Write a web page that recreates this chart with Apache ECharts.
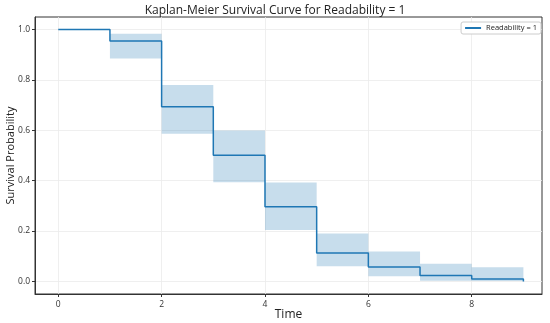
<!DOCTYPE html>
<html>
<head>
<meta charset="utf-8">
<script src="https://cdn.jsdelivr.net/npm/echarts@6/dist/echarts.min.js"></script>
<style>
html,body{margin:0;padding:0;background:#fff;}
#chart{width:550px;height:323px;}
</style>
</head>
<body>
<div id="chart"></div>
<script>
// Data
const times = [0, 1, 2, 3, 4, 5, 6, 7, 8, 9];
const survival = [1.0, 0.955, 0.694, 0.501, 0.296, 0.113, 0.057, 0.023, 0.010, 0.0];
const ciLower = [1.0, 0.885, 0.586, 0.394, 0.204, 0.060, 0.020, 0.003, 0.002, 0.0];
const ciUpper = [1.0, 0.983, 0.780, 0.599, 0.393, 0.190, 0.119, 0.070, 0.056, 0.0];
const xTicks = [0, 2, 4, 6, 8];
const yTicks = [0.0, 0.2, 0.4, 0.6, 0.8, 1.0];
const seriesName = 'Readability = 1';

const lineData = times.map((t, i) => [t, survival[i]]);
const bandData = [];
for (let i = 0; i < times.length - 1; i++) {
  bandData.push([times[i], times[i + 1], ciLower[i], ciUpper[i]]);
}

const FONT = 'Open Sans';
const chart = echarts.init(document.getElementById('chart'), null, {renderer: 'canvas'});
chart.setOption({
  animation: false,
  backgroundColor: '#ffffff',
  title: {
    text: 'Kaplan-Meier Survival Curve for Readability = 1',
    left: 'center',
    top: 0,
    textStyle: {fontFamily: FONT, fontSize: 12, fontWeight: 'normal', color: '#222'}
  },
  legend: {
    right: 9,
    top: 22,
    padding: [2, 4, 2, 4],
    borderColor: '#cccccc',
    borderWidth: 1,
    borderRadius: 2,
    backgroundColor: '#fff',
    itemWidth: 16,
    itemHeight: 2,
    icon: 'rect',
    textStyle: {fontFamily: FONT, fontSize: 7.5, color: '#222'},
    data: [seriesName]
  },
  grid: {
    left: 35, right: 8, top: 17, bottom: 29,
    outerBoundsMode: 'none',
    containLabel: false,
    show: true, borderColor: '#333', borderWidth: 1, backgroundColor: 'transparent'
  },
  xAxis: {
    type: 'value',
    min: -0.45,
    max: 9.36,
    name: 'Time',
    nameLocation: 'middle',
    nameGap: 15,
    nameMoveOverlap: false,
    nameTextStyle: {fontFamily: FONT, fontSize: 12, color: '#222'},
    axisLine: {show: true, onZero: false, lineStyle: {color: '#333', width: 1}},
    axisTick: {show: true, length: 3, lineStyle: {color: '#333'}, customValues: xTicks},
    axisLabel: {fontFamily: FONT, fontSize: 8.5, color: '#333', margin: 6, customValues: xTicks,
      formatter: v => String(v)},
    splitLine: {show: true, lineStyle: {color: '#ebebeb', width: 0.8}}
  },
  yAxis: {
    type: 'value',
    min: -0.05,
    max: 1.05,
    name: 'Survival Probability',
    nameLocation: 'middle',
    nameGap: 19,
    nameMoveOverlap: false,
    nameTextStyle: {fontFamily: FONT, fontSize: 11, color: '#222'},
    axisLine: {show: true, onZero: false, lineStyle: {color: '#333', width: 1}},
    axisTick: {show: true, length: 3, lineStyle: {color: '#333'}, customValues: yTicks},
    axisLabel: {fontFamily: FONT, fontSize: 8.5, color: '#333', margin: 5, customValues: yTicks,
      formatter: v => v.toFixed(1)},
    splitLine: {show: true, lineStyle: {color: '#ebebeb', width: 0.8}}
  },
  series: [
    {
      type: 'custom',
      name: 'CI',
      silent: true,
      data: bandData,
      encode: {x: [0, 1], y: [2, 3]},
      renderItem: function (params, api) {
        const p0 = api.coord([api.value(0), api.value(3)]);
        const p1 = api.coord([api.value(1), api.value(2)]);
        return {
          type: 'rect',
          shape: {x: p0[0], y: p0[1], width: p1[0] - p0[0], height: p1[1] - p0[1]},
          style: {fill: 'rgba(31,119,180,0.25)'}
        };
      },
      z: 1
    },
    {
      type: 'line',
      name: seriesName,
      data: lineData,
      step: 'end',
      symbol: 'none',
      color: '#1f77b4',
      lineStyle: {color: '#1f77b4', width: 1.5},
      z: 3
    }
  ]
});
</script>
</body>
</html>
